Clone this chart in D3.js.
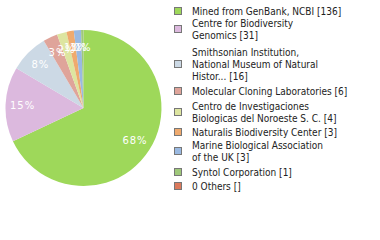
<!DOCTYPE html>
<html>
<head>
<meta charset="utf-8">
<script src="https://cdn.jsdelivr.net/npm/d3@7"></script>
<style>
  body { margin: 0; background: #fff; }
</style>
</head>
<body>
<div id="chart"></div>
<script>
// data
const labels = [
    ["Mined from GenBank, NCBI [136]"],
    ["Centre for Biodiversity", "Genomics [31]"],
    ["Smithsonian Institution,", "National Museum of Natural", "Histor... [16]"],
    ["Molecular Cloning Laboratories [6]"],
    ["Centro de Investigaciones", "Biologicas del Noroeste S. C. [4]"],
    ["Naturalis Biodiversity Center [3]"],
    ["Marine Biological Association", "of the UK [3]"],
    ["Syntol Corporation [1]"],
    ["0 Others []"]
];
const counts = [136, 31, 16, 6, 4, 3, 3, 1, 0];
const colors = ["#9ed85a", "#dcb9de", "#ccd9e5", "#dfa49a", "#dde5a0", "#efaa6e", "#9ab9e1", "#9fc87a", "#dc7a5c"];
const legendY = [11, 29, 64, 91, 112, 132, 151, 172, 186];

const svg = d3.select("#chart")
    .append("svg")
    .attr("width", 380)
    .attr("height", 240)
    .attr("font-family", "DejaVu Sans Condensed")
    .attr("font-size", 10);

const radius = 78;
const total = d3.sum(counts);

const g = svg.append("g")
    .attr("transform", "translate(83.5,108)");

const pie = d3.pie().sort(null).value(d => d);
const arcs = pie(counts);
const arc = d3.arc().innerRadius(0).outerRadius(radius);
const labelArc = d3.arc().innerRadius(61).outerRadius(61);

g.selectAll("path")
    .data(arcs)
    .enter().append("path")
    .attr("d", arc)
    .attr("fill", (d, i) => colors[i]);

g.selectAll("text")
    .data(arcs.filter(d => d.data > 0))
    .enter().append("text")
    .attr("transform", d => `translate(${labelArc.centroid(d)})`)
    .attr("text-anchor", "middle")
    .attr("dy", "0.35em")
    .attr("fill", "#fff")
    .attr("font-family", "DejaVu Sans")
    .attr("letter-spacing", 1)
    .text(d => Math.floor(d.data / total * 100) + "%");

// legend
const legend = svg.append("g")
    .selectAll("g")
    .data(labels)
    .enter().append("g")
    .attr("transform", (d, i) => `translate(174,${legendY[i]})`);

legend.append("rect")
    .attr("x", 0.5)
    .attr("y", -3.5)
    .attr("width", 7)
    .attr("height", 7)
    .attr("fill", (d, i) => colors[i])
    .attr("stroke", "#777");

legend.append("text")
    .attr("x", 18)
    .attr("fill", "#222")
    .selectAll("tspan")
    .data(d => d.map((t, j) => ({t, j, n: d.length})))
    .enter().append("tspan")
    .attr("x", 18)
    .attr("y", d => (d.j - (d.n - 1) / 2) * 12)
    .attr("dy", "0.35em")
    .text(d => d.t);
</script>
</body>
</html>
